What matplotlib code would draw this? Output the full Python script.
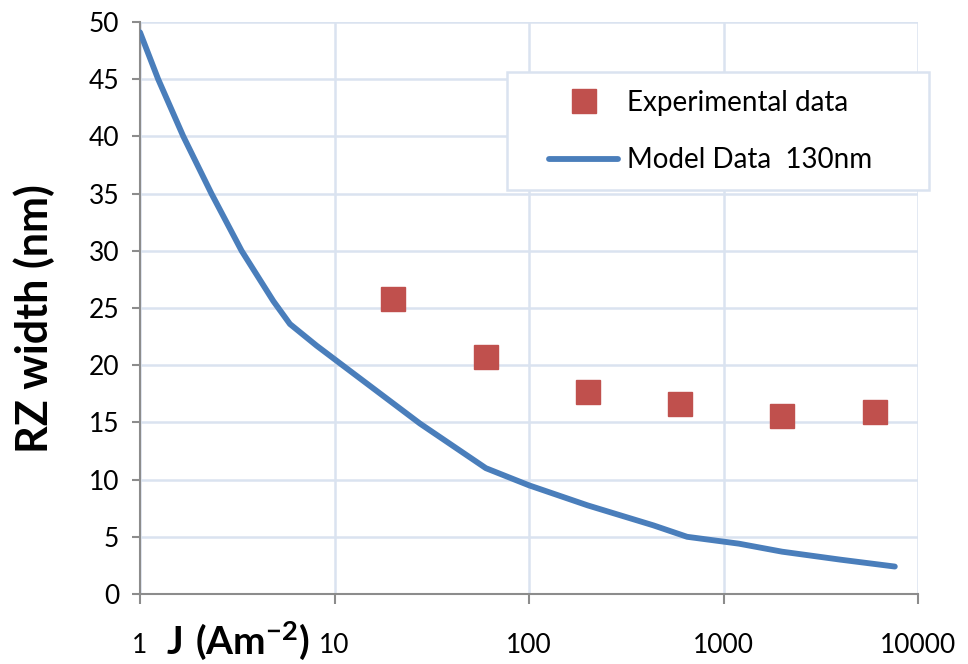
import numpy as np
import matplotlib
matplotlib.use('Agg')
import matplotlib.pyplot as plt
from matplotlib.patches import Rectangle
from matplotlib.ticker import FixedLocator, NullLocator

# experimental points
exp_j = [20, 60, 200, 600, 2000, 6000]
exp_w = [25.8, 20.7, 17.7, 16.6, 15.6, 15.9]

# model curve
model_j = [1, 1.24, 1.67, 2.33, 3.33, 4.85, 5.9, 8.1, 11.6, 27.5, 60, 100, 200, 436, 650, 1200, 2000, 4000, 7600]
model_w = [49.1, 45.0, 40.0, 35.0, 30.0, 25.6, 23.6, 21.7, 19.7, 14.9, 11.0, 9.5, 7.75, 6.0, 5.0, 4.4, 3.7, 3.0, 2.4]

xticks = [1, 10, 100, 1000, 10000]
xticklabels = ['1', '10', '100', '1000', '10000']
yticks = list(range(0, 51, 5))

plt.rcParams['font.family'] = ['Lato', 'DejaVu Sans']
plt.rcParams['mathtext.fontset'] = 'custom'
plt.rcParams['mathtext.rm'] = 'Lato'
plt.rcParams['mathtext.bf'] = 'Lato:bold'

fig = plt.figure(figsize=(9.68, 6.64), dpi=100)
ax = fig.add_axes([140/968, 1-594/664, 778/968, 572/664])

grid_c = '#dae3f0'
axis_c = '#8c8c8c'

ax.plot(model_j, model_w, color='#4a7ebb', lw=4.2, solid_capstyle='round',
        solid_joinstyle='round', label='Model Data  130nm', zorder=3)
ax.plot(exp_j, exp_w, ls='none', marker='s', ms=17, color='#c0504d',
        mec='#c0504d', label='Experimental data', zorder=4)

ax.set_xscale('log')
ax.set_xlim(1, 10000)
ax.set_ylim(0, 50)
ax.xaxis.set_major_locator(FixedLocator(xticks))
ax.xaxis.set_minor_locator(NullLocator())
ax.set_xticklabels(xticklabels)
ax.set_yticks(yticks)

ax.grid(True, color=grid_c, lw=1.8)
ax.set_axisbelow(True)
for s in ['top', 'right']:
    ax.spines[s].set_visible(False)
for s in ['left', 'bottom']:
    ax.spines[s].set_color(axis_c)
    ax.spines[s].set_linewidth(1.5)

ax.tick_params(axis='x', length=7, width=1.5, color=axis_c, pad=21, labelsize=19)
ax.tick_params(axis='y', length=6, width=1.5, color=axis_c, pad=9, labelsize=19)

fig.text(238/968, 1-641/664, r'$\mathbf{J\ (Am^{-2})}$', fontsize=28,
         ha='center', va='center')
fig.text(34/968, 1-319/664, 'RZ width (nm)', fontsize=31, fontweight='bold',
         rotation=90, ha='center', va='center')

# legend box
box = Rectangle((507/968, 1-190/664), 422/968, 118/664, transform=fig.transFigure,
                facecolor='white', edgecolor=grid_c, lw=1.8, clip_on=False, zorder=5)
ax.add_artist(box)

handles, labels = ax.get_legend_handles_labels()
leg = ax.legend(handles[::-1], labels[::-1], loc='center left',
                bbox_to_anchor=(549/968, 1-131.5/664), bbox_transform=fig.transFigure,
                fontsize=20, frameon=False, handlelength=2.5,
                borderpad=0, labelspacing=1.15, handletextpad=0.3,
                borderaxespad=0)
leg.set_zorder(6)

fig.savefig('out.png', dpi=100)
